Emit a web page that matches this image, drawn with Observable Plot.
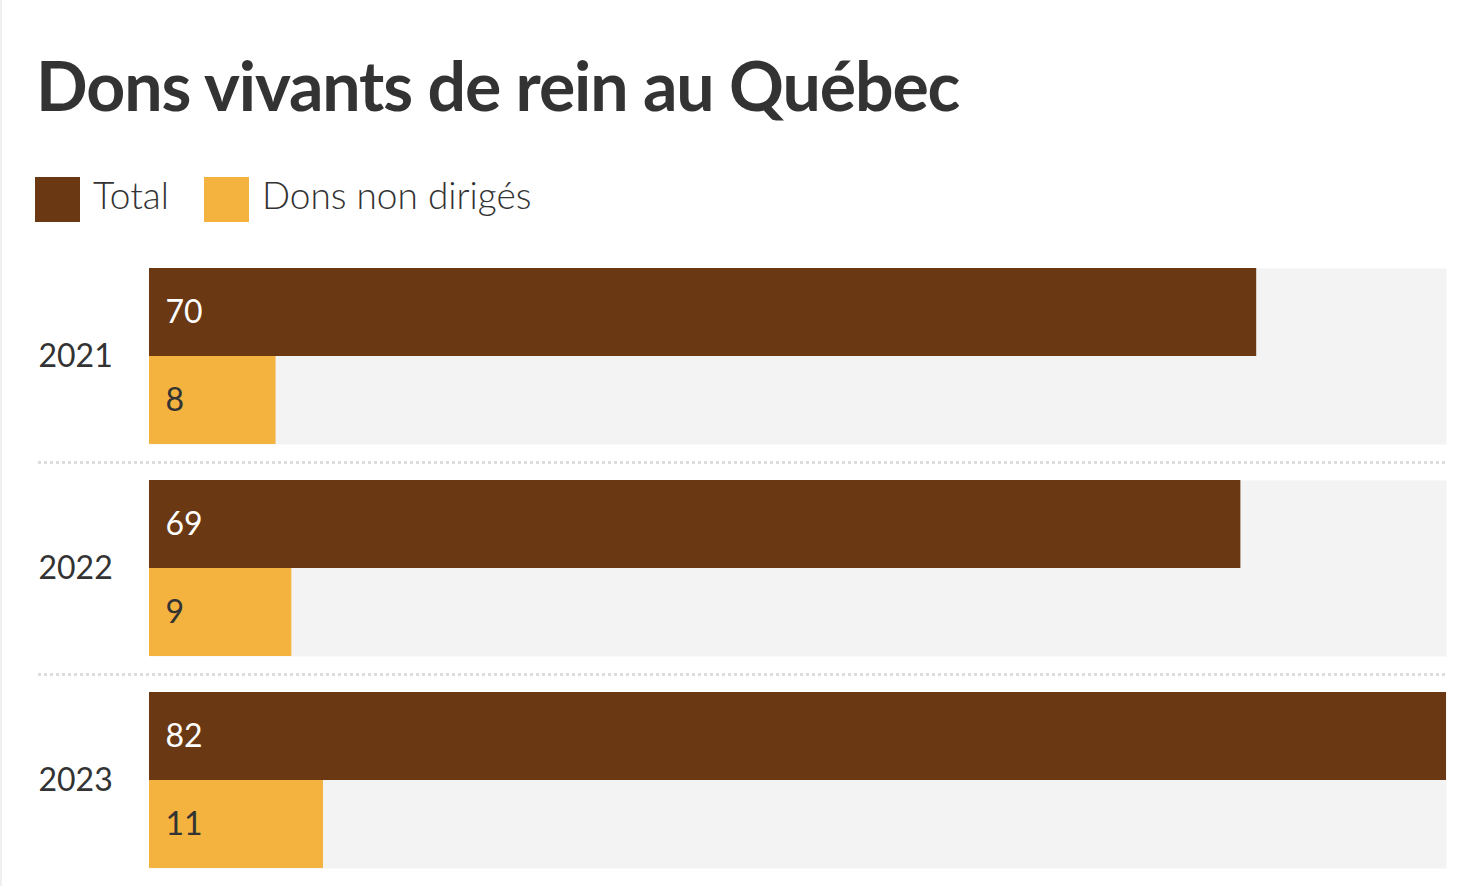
<!DOCTYPE html>
<html><head><meta charset="utf-8">
<script src="https://cdn.jsdelivr.net/npm/d3@7"></script>
<script src="https://cdn.jsdelivr.net/npm/@observablehq/plot@0.6"></script>
<style>
html,body{margin:0;padding:0;background:#fff;}
body{width:1470px;height:886px;overflow:hidden;position:relative;box-sizing:border-box;border-left:2px solid #efefef;font-family:Lato,"Open Sans",sans-serif;color:#333;}
#title{position:absolute;left:34px;top:51px;font-size:68px;line-height:1;font-weight:700;color:#333;white-space:nowrap;letter-spacing:-1.1px;}
#legend{position:absolute;left:33px;top:177px;display:flex;align-items:center;height:45px;}
.sw{width:45px;height:45px;margin-right:13px;}
.lt{font-size:37px;font-weight:300;color:#333;line-height:1;margin-right:35px;white-space:nowrap;position:relative;top:-5px;}
#chart{position:absolute;left:-2px;top:240px;}
</style></head>
<body>
<div id="title">Dons vivants de rein au Québec</div>
<div id="legend"></div>
<div id="chart"></div>
<script>
const years = ["2021", "2022", "2023"];
const series = ["Total", "Dons non dirigés"];
const totalValues = [70, 69, 82];
const nonDirectedValues = [8, 9, 11];
const seriesColors = ["#6a3812", "#f4b23f"];
const labelColors = ["#ffffff", "#333333"];
const xMax = 82;

const rows = years.flatMap((year, i) => [
  {year, series: series[0], value: totalValues[i]},
  {year, series: series[1], value: nonDirectedValues[i]}
]);

const legend = document.getElementById("legend");
series.forEach((s, i) => {
  const sw = document.createElement("div");
  sw.className = "sw"; sw.style.background = seriesColors[i];
  const t = document.createElement("div");
  t.className = "lt"; t.textContent = s;
  legend.append(sw, t);
});

const chart = Plot.plot({
  width: 1470, height: 646,
  marginTop: 28, marginBottom: 18, marginLeft: 149, marginRight: 24,
  style: {fontFamily: "Lato, 'Open Sans', sans-serif", background: "transparent"},
  x: {domain: [0, xMax], axis: null},
  y: {domain: series, padding: 0, axis: null},
  fy: {domain: years, paddingInner: 36 / 212, paddingOuter: 0, axis: null},
  color: {domain: series, range: seriesColors},
  marks: [
    Plot.frame({fill: "#f3f3f3", stroke: "none"}),
    Plot.ruleY(years.slice(0, -1), {fy: d => d, y: null, dy: 106, insetLeft: -111, stroke: "#dddddd", strokeWidth: 3, strokeDasharray: "3,3"}),
    Plot.barX(rows, {fy: "year", y: "series", x: "value", fill: "series"}),
    Plot.text(rows.filter(d => d.series === series[0]), {fy: "year", y: "series", text: d => String(d.value), frameAnchor: "left", dx: 16, textAnchor: "start", fill: labelColors[0], fontSize: 32}),
    Plot.text(rows.filter(d => d.series === series[1]), {fy: "year", y: "series", text: d => String(d.value), frameAnchor: "left", dx: 16, textAnchor: "start", fill: labelColors[1], fontSize: 32}),
    Plot.text(years, {fy: d => d, text: d => d, frameAnchor: "left", dx: -111, textAnchor: "start", fill: "#333", fontSize: 32})
  ]
});
document.getElementById("chart").append(chart);
</script>
</body></html>
